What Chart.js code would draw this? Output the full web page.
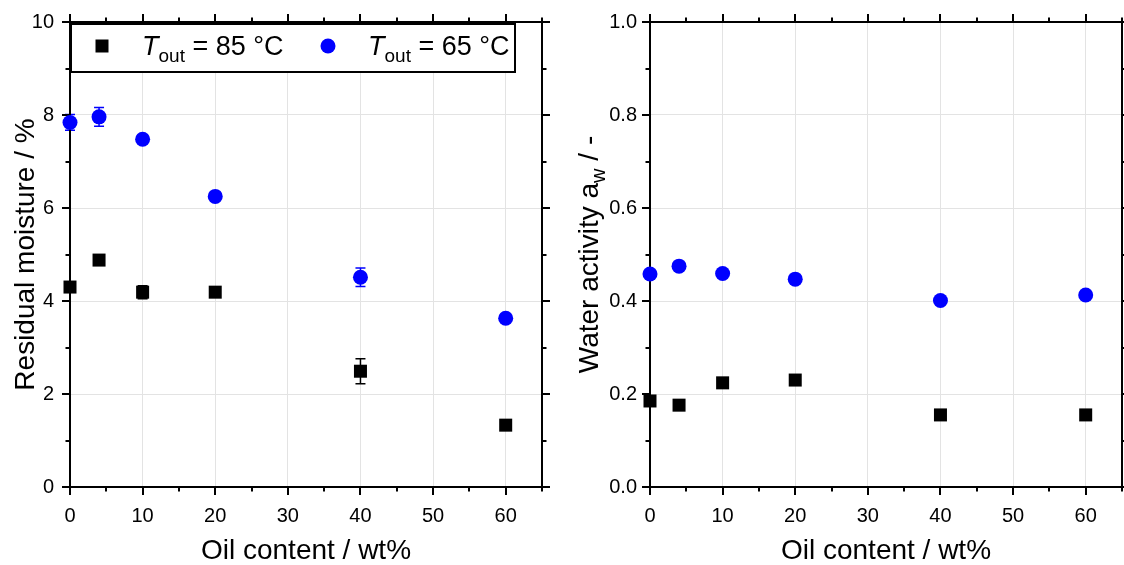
<!DOCTYPE html>
<html>
<head>
<meta charset="utf-8">
<script src="https://cdn.jsdelivr.net/npm/chart.js@4/dist/chart.umd.min.js"></script>
<style>
  html, body { margin: 0; padding: 0; background: #fff; }
  #wrap { position: relative; width: 1124px; height: 565px; overflow: hidden; }
  #moistureChart { position: absolute; left: 0; top: 0; }
  #awChart { position: absolute; left: 562px; top: 0; }
</style>
</head>
<body>
<div id="wrap">
  <canvas id="moistureChart" width="562" height="565"></canvas>
  <canvas id="awChart" width="562" height="565"></canvas>
</div>
<script>
// Oil content of the samples (wt%)
const oilContent = [0, 4, 10, 20, 40, 60];

// Residual moisture (%), outlet temperature 85 °C and 65 °C
const moisture85 = [4.30, 4.88, 4.19, 4.19, 2.49, 1.33];
const moisture85Err = [0.06, 0.05, 0.14, 0.07, 0.27, 0.07];
const moisture65 = [7.84, 7.96, 7.48, 6.25, 4.51, 3.63];
const moisture65Err = [0.17, 0.20, 0.05, 0.05, 0.20, 0.05];

// Water activity a_w (-)
const aw85 = [0.185, 0.176, 0.224, 0.230, 0.155, 0.155];
const aw85Err = [0.006, 0.005, 0.006, 0.005, 0.005, 0.005];
const aw65 = [0.458, 0.475, 0.459, 0.447, 0.401, 0.413];
const aw65Err = [0.006, 0.006, 0.005, 0.005, 0.005, 0.005];

// Axis ticks
const xMajorTicks = [0, 10, 20, 30, 40, 50, 60];
const xMinorTicks = [5, 15, 25, 35, 45, 55, 65];
const moistureMajorTicks = [0, 2, 4, 6, 8, 10];
const moistureMinorTicks = [1, 3, 5, 7, 9];
const awMajorTicks = [0, 0.2, 0.4, 0.6, 0.8, 1.0];
const awMinorTicks = [0.1, 0.3, 0.5, 0.7, 0.9];

const FONT = '"Liberation Sans", Arial, Helvetica, sans-serif';
const BLUE = '#0000ff';
const GRID = '#e3e3e3';

const toPoints = (xs, ys) => xs.map((x, i) => ({ x, y: ys[i] }));

// Draw a run of text segments (normal / subscript / italic) starting at x
function drawRich(ctx, segments, x, baseline) {
  let cx = x;
  for (const s of segments) {
    ctx.font = `${s.italic ? 'italic ' : ''}${s.size}px ${FONT}`;
    ctx.fillText(s.text, cx, baseline + (s.dy || 0));
    cx += ctx.measureText(s.text).width;
  }
  return cx;
}
function richWidth(ctx, segments) {
  let w = 0;
  for (const s of segments) {
    ctx.font = `${s.italic ? 'italic ' : ''}${s.size}px ${FONT}`;
    w += ctx.measureText(s.text).width;
  }
  return w;
}

// Frame, outward ticks on all four sides, error bars, titles and legend
const decor = {
  id: 'decor',
  beforeDatasetsDraw(chart, args, o) {
    const { ctx, chartArea: a, scales: { x, y } } = chart;
    ctx.save();

    // error bars
    chart.data.datasets.forEach((ds) => {
      if (!ds.errorBars) return;
      ctx.strokeStyle = ds.backgroundColor;
      ctx.lineWidth = 1.5;
      ds.data.forEach((p, i) => {
        const e = ds.errorBars[i];
        const px = x.getPixelForValue(p.x);
        const yt = y.getPixelForValue(p.y + e);
        const yb = y.getPixelForValue(p.y - e);
        ctx.beginPath();
        ctx.moveTo(px, yt); ctx.lineTo(px, yb);
        ctx.moveTo(px - 5, yt); ctx.lineTo(px + 5, yt);
        ctx.moveTo(px - 5, yb); ctx.lineTo(px + 5, yb);
        ctx.stroke();
      });
    });

    // ticks
    ctx.strokeStyle = '#000';
    ctx.lineWidth = 2;
    const tick = (vals, len, horiz) => {
      vals.forEach((v) => {
        ctx.beginPath();
        if (horiz) {
          const px = Math.round(x.getPixelForValue(v));
          ctx.moveTo(px, a.bottom); ctx.lineTo(px, a.bottom + len);
          ctx.moveTo(px, a.top); ctx.lineTo(px, a.top - len);
        } else {
          const py = Math.round(y.getPixelForValue(v));
          ctx.moveTo(a.left, py); ctx.lineTo(a.left - len, py);
          ctx.moveTo(a.right, py); ctx.lineTo(a.right + len, py);
        }
        ctx.stroke();
      });
    };
    tick(o.xMajor, 8, true);
    tick(o.xMinor, 4.5, true);
    tick(o.yMajor, 8, false);
    tick(o.yMinor, 4.5, false);

    // frame
    ctx.lineWidth = 2;
    ctx.strokeRect(a.left, a.top, a.right - a.left, a.bottom - a.top);
    ctx.restore();
  },
  afterDatasetsDraw(chart, args, o) {
    const { ctx, chartArea: a } = chart;
    ctx.save();
    ctx.fillStyle = '#000';
    ctx.textBaseline = 'alphabetic';

    // x title
    const xw = richWidth(ctx, o.xTitle);
    drawRich(ctx, o.xTitle, (a.left + a.right) / 2 - xw / 2, o.xTitleBaseline);

    // y title (rotated)
    const yw = richWidth(ctx, o.yTitle);
    ctx.save();
    ctx.translate(o.yTitleBaseline, (a.top + a.bottom) / 2);
    ctx.rotate(-Math.PI / 2);
    drawRich(ctx, o.yTitle, -yw / 2, 0);
    ctx.restore();

    // legend
    if (o.legend) {
      const L = o.legend;
      ctx.fillStyle = '#fff';
      ctx.fillRect(L.x, L.y, L.w, L.h);
      ctx.strokeStyle = '#000';
      ctx.lineWidth = 2;
      ctx.strokeRect(L.x, L.y, L.w, L.h);
      L.items.forEach((it) => {
        ctx.fillStyle = it.color;
        ctx.beginPath();
        if (it.shape === 'rect') {
          ctx.rect(it.mx - 6.5, it.my - 6.5, 13, 13);
        } else {
          ctx.arc(it.mx, it.my, 7.5, 0, Math.PI * 2);
        }
        ctx.fill();
        ctx.fillStyle = '#000';
        drawRich(ctx, it.label, it.tx, it.baseline);
      });
    }
    ctx.restore();
  }
};

function tickFont() { return { family: FONT, size: 20 }; }

function makeChart(id, cfg) {
  return new Chart(document.getElementById(id), {
    type: 'scatter',
    data: {
      datasets: [
        {
          label: 'T_out = 85 °C',
          data: toPoints(oilContent, cfg.s85),
          errorBars: cfg.e85,
          pointStyle: 'rect',
          pointRadius: 9.2,
          pointHoverRadius: 9.2,
          backgroundColor: '#000000',
          borderColor: '#000000',
          borderWidth: 0,
          clip: false
        },
        {
          label: 'T_out = 65 °C',
          data: toPoints(oilContent, cfg.s65),
          errorBars: cfg.e65,
          pointStyle: 'circle',
          pointRadius: 7.5,
          pointHoverRadius: 7.5,
          backgroundColor: BLUE,
          borderColor: BLUE,
          borderWidth: 0,
          clip: false
        }
      ]
    },
    options: {
      responsive: false,
      devicePixelRatio: 1,
      animation: false,
      events: [],
      layout: { autoPadding: false, padding: { left: 0, right: cfg.padRight, top: 22, bottom: 0 } },
      scales: {
        x: {
          type: 'linear',
          min: 0, max: 65,
          afterFit: (s) => { s.height = 78; s.paddingLeft = 0; s.paddingRight = 0; },
          afterBuildTicks: (s) => { s.ticks = xMajorTicks.map((v) => ({ value: v })); },
          ticks: {
            autoSkip: false, maxRotation: 0, padding: 17,
            color: '#000', font: tickFont(),
            callback: (v) => String(v)
          },
          grid: { color: GRID, lineWidth: 1, drawTicks: false },
          border: { display: false }
        },
        y: {
          type: 'linear',
          min: cfg.yMin, max: cfg.yMax,
          afterFit: (s) => { s.width = cfg.yWidth; s.paddingTop = 0; s.paddingBottom = 0; },
          afterBuildTicks: (s) => { s.ticks = cfg.yMajor.map((v) => ({ value: v })); },
          ticks: {
            autoSkip: false, padding: cfg.yPad,
            color: '#000', font: tickFont(),
            callback: cfg.yFmt
          },
          grid: { color: GRID, lineWidth: 1, drawTicks: false },
          border: { display: false }
        }
      },
      plugins: {
        legend: { display: false },
        tooltip: { enabled: false },
        decor: {
          xMajor: xMajorTicks, xMinor: xMinorTicks,
          yMajor: cfg.yMajor, yMinor: cfg.yMinor,
          xTitle: [{ text: 'Oil content / wt%', size: 28 }],
          xTitleBaseline: 559,
          yTitle: cfg.yTitle,
          yTitleBaseline: cfg.yTitleBaseline,
          legend: cfg.legend
        }
      }
    },
    plugins: [decor]
  });
}

makeChart('moistureChart', {
  s85: moisture85, e85: moisture85Err,
  s65: moisture65, e65: moisture65Err,
  yMin: 0, yMax: 10,
  yMajor: moistureMajorTicks, yMinor: moistureMinorTicks,
  yFmt: (v) => String(v),
  yWidth: 70, yPad: 16, padRight: 20,
  yTitle: [{ text: 'Residual moisture / %', size: 28 }],
  yTitleBaseline: 34,
  legend: {
    x: 71, y: 24, w: 444, h: 48,
    items: [
      { shape: 'rect', color: '#000', mx: 102, my: 46, tx: 142, baseline: 55,
        label: [{ text: 'T', size: 27, italic: true }, { text: 'out', size: 19, dy: 7 }, { text: ' = 85 °C', size: 27 }] },
      { shape: 'circle', color: BLUE, mx: 328, my: 46, tx: 368, baseline: 55,
        label: [{ text: 'T', size: 27, italic: true }, { text: 'out', size: 19, dy: 7 }, { text: ' = 65 °C', size: 27 }] }
    ]
  }
});

makeChart('awChart', {
  s85: aw85, e85: aw85Err,
  s65: aw65, e65: aw65Err,
  yMin: 0, yMax: 1,
  yMajor: awMajorTicks, yMinor: awMinorTicks,
  yFmt: (v) => Number(v).toFixed(1),
  yWidth: 88, yPad: 13, padRight: 2,
  yTitle: [{ text: 'Water activity a', size: 28 }, { text: 'w', size: 20, dy: 7 }, { text: ' / -', size: 28 }],
  yTitleBaseline: 36,
  legend: null
});
</script>
</body>
</html>
